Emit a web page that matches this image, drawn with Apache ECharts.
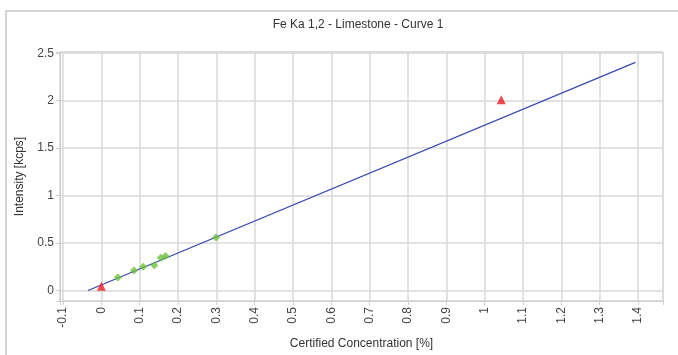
<!DOCTYPE html>
<html>
<head>
<meta charset="utf-8">
<script src="https://cdn.jsdelivr.net/npm/echarts@6/dist/echarts.min.js"></script>
<style>html,body{margin:0;padding:0;background:#fff;}#c{width:678px;height:355px;}</style>
</head>
<body>
<div id="c"></div>
<script>
var titleText = 'Fe Ka 1,2 - Limestone - Curve 1';
var xName = 'Certified Concentration [%]';
var yName = 'Intensity [kcps]';
// standards (green diamonds)
var stdConc = [0.043, 0.085, 0.109, 0.138, 0.155, 0.167, 0.299];
var stdInt  = [0.138, 0.211, 0.252, 0.266, 0.345, 0.363, 0.560];
// outliers (red triangles)
var outConc = [0.0, 1.043];
var outInt  = [0.045, 2.01];
// calibration line end points
var lineConc = [-0.035, 1.393];
var lineInt  = [0.0, 2.404];

function zip(a, b) { return a.map(function (v, i) { return [v, b[i]]; }); }
function tickFmt(step) {
  return function (v) {
    var k = Math.round(v / step);
    if (Math.abs(v - k * step) > 1e-6) return '';
    return String(+(k * step).toFixed(2));
  };
}

var chart = echarts.init(document.getElementById('c'));
var font = 'Liberation Sans, Arial, sans-serif';
chart.setOption({
  animation: false,
  backgroundColor: '#fff',
  title: {
    text: titleText, left: 353, top: 14, textAlign: 'center',
    textStyle: { fontFamily: font, fontSize: 12, fontWeight: 'normal', color: '#333' }
  },
  graphic: [{
    type: 'rect', shape: { x: 6, y: 11, width: 700, height: 400 },
    style: { fill: null, stroke: '#c8c8c8', lineWidth: 1.5 }, silent: true, z: -1
  }],
  grid: { left: 60, top: 52, right: 15, bottom: 49, show: true, borderColor: '#cfcfcf', borderWidth: 1, containLabel: false },
  xAxis: {
    type: 'value', min: -0.108, max: 1.465, minInterval: 0.1, maxInterval: 0.1,
    name: xName, nameLocation: 'middle', nameGap: 37,
    nameTextStyle: { fontFamily: font, fontSize: 12, color: '#333' },
    axisLine: { show: true, onZero: false, lineStyle: { color: '#cfcfcf' } },
    axisTick: { show: true, length: 4, lineStyle: { color: '#cfcfcf' } },
    axisLabel: { rotate: 90, margin: 6, fontFamily: font, fontSize: 12, color: '#444', formatter: tickFmt(0.1), showMinLabel: true, showMaxLabel: true },
    splitLine: { show: true, lineStyle: { color: '#d9d9d9', width: 1.5 } }
  },
  yAxis: {
    type: 'value', min: -0.11, max: 2.513, minInterval: 0.5, maxInterval: 0.5,
    name: yName, nameLocation: 'middle', nameGap: 34,
    nameTextStyle: { fontFamily: font, fontSize: 12, color: '#333' },
    axisLine: { show: true, onZero: false, lineStyle: { color: '#cfcfcf' } },
    axisTick: { show: true, length: 4, lineStyle: { color: '#cfcfcf' } },
    axisLabel: { margin: 6, fontFamily: font, fontSize: 12, color: '#444', formatter: tickFmt(0.5) },
    splitLine: { show: true, lineStyle: { color: '#d9d9d9', width: 1.5 } }
  },
  series: [
    {
      type: 'line', data: zip(lineConc, lineInt), symbol: 'none',
      lineStyle: { color: '#3848b0', width: 1.2 }, z: 2
    },
    {
      type: 'scatter', data: zip(stdConc, stdInt), symbol: 'diamond', symbolSize: 8,
      itemStyle: { color: '#6cc23a' }, z: 3
    },
    {
      type: 'scatter', data: zip(outConc, outInt), symbol: 'triangle', symbolSize: 9,
      itemStyle: { color: '#ee1c24' }, z: 3
    }
  ]
});
</script>
</body>
</html>
